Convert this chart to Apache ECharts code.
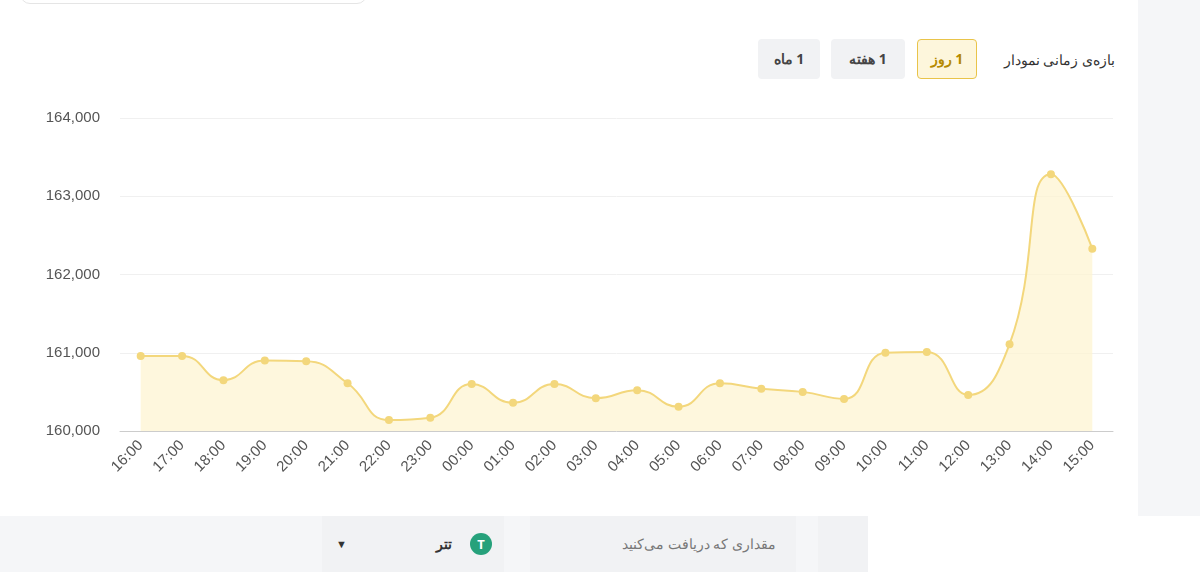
<!DOCTYPE html>
<html>
<head>
<meta charset="utf-8" />
<title>chart</title>
<script src="https://cdn.jsdelivr.net/npm/echarts@6/dist/echarts.min.js"></script>
<style>
    body { margin: 0; width: 1200px; height: 572px; background: #f5f6f8; font-family: "Noto Sans", sans-serif; overflow: hidden; position: relative; }
    #panel { position: absolute; left: 0; top: 0; width: 1138px; height: 516px; background: #fff; }
    #topbox { position: absolute; left: 20px; top: -20px; width: 345px; height: 22px; border: 1px solid #e5e5e5; border-radius: 10px; background: #fff; }
    #chart { position: absolute; left: 0; top: 90px; width: 1138px; height: 426px; }
    .btn { position: absolute; top: 39px; height: 40px; line-height: 40px; text-align: center; font-size: 14px; font-weight: bold; color: #444; background: #f1f2f4; border-radius: 4px; direction: rtl; }
    .active { background: #fdf6dc; border: 1px solid #e9c44a; color: #b58a00; line-height: 38px; height: 38px; }
    #label { position: absolute; right: 23px; top: 50px; font-size: 14px; color: #333; direction: rtl; }
    .in { position: absolute; top: 516px; height: 56px; background: #f1f2f4; font-size: 14px; color: #777; line-height: 56px; direction: rtl; }
</style>
</head>
<body>
<div id="panel">
    <div id="topbox"></div>
    <div class="btn" style="left:758px;width:62px;">1 ماه</div>
    <div class="btn" style="left:831px;width:74px;">1 هفته</div>
    <div class="btn active" style="left:917px;width:58px;">1 روز</div>
    <div id="label">بازه‌ی زمانی نمودار</div>
    <div id="chart"></div>
</div>
<div class="in" style="left:0;width:296px;background:#f5f6f8"></div>
<div class="in" style="left:322px;width:182px;background:#f1f2f4;color:#333;font-weight:bold">
    <span style="position:absolute;right:52px">تتر</span>
    <span style="position:absolute;right:12px;top:17px;width:22px;height:22px;border-radius:11px;background:#26a17b;color:#fff;line-height:22px;text-align:center;font-size:13px">T</span>
    <span style="position:absolute;left:14px;color:#333;font-size:11px">▼</span>
</div>
<div class="in" style="left:530px;width:266px;"><span style="position:absolute;right:20px">مقداری که دریافت می‌کنید</span></div>
<div class="in" style="left:818px;width:50px;background:#f1f2f4"></div>
<div class="in" style="left:868px;width:332px;background:#fff"></div>
<script>
    var hours = ["16:00", "17:00", "18:00", "19:00", "20:00", "21:00", "22:00", "23:00", "00:00", "01:00", "02:00", "03:00",
        "04:00", "05:00", "06:00", "07:00", "08:00", "09:00", "10:00", "11:00", "12:00", "13:00", "14:00", "15:00"];
    var prices = [160960, 160960, 160650, 160900, 160890, 160610, 160140, 160170, 160600, 160360, 160600, 160420,
        160520, 160310, 160610, 160540, 160500, 160410, 161000, 161010, 160460, 161110, 163280, 162330];
    var yTicks = { min: 160000, max: 164000, interval: 1000 };

    var chart = echarts.init(document.getElementById('chart'));
    chart.setOption({
        animation: false,
        grid: { left: 120, right: 25, top: 28, bottom: 85 },
        xAxis: {
            type: 'category',
            data: hours,
            boundaryGap: true,
            axisLine: { lineStyle: { color: '#ccc' } },
            axisTick: { show: false },
            axisLabel: { rotate: 45, color: '#555', fontSize: 15, interval: 0, margin: 12 }
        },
        yAxis: {
            type: 'value',
            min: yTicks.min,
            max: yTicks.max,
            interval: yTicks.interval,
            axisLabel: { color: '#555', fontSize: 15, margin: 20, formatter: function (v) { return v.toLocaleString('en-US'); } },
            splitLine: { lineStyle: { color: '#f0f0f0' } }
        },
        series: [{
            type: 'line',
            data: prices,
            smooth: true,
            symbol: 'circle',
            symbolSize: 8,
            itemStyle: { color: '#f3d77c' },
            lineStyle: { color: '#f3d77c', width: 2 },
            areaStyle: { color: '#fdf3cf' }
        }]
    });
</script>
</body>
</html>
